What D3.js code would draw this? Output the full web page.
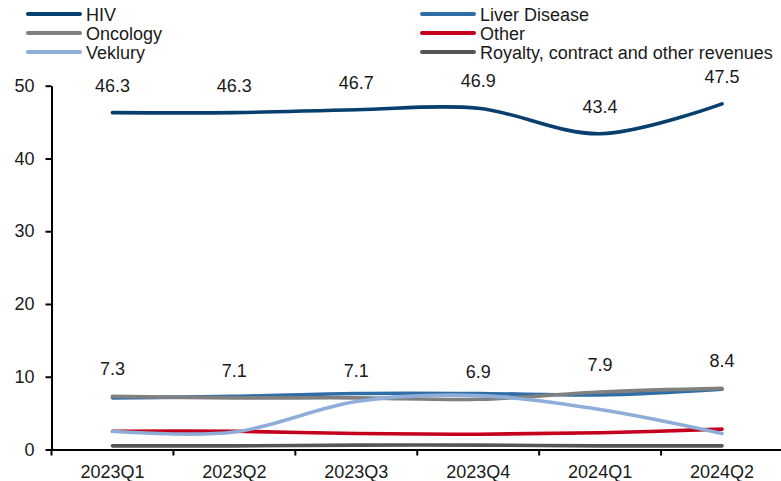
<!DOCTYPE html>
<html>
<head>
<meta charset="utf-8">
<script src="https://cdn.jsdelivr.net/npm/d3@7"></script>
<style>
  html, body { margin: 0; padding: 0; background: #fff; }
  svg { display: block; font-family: "Liberation Sans", Arial, sans-serif; }
</style>
</head>
<body>
<svg id="chart" width="781" height="481"></svg>
<script>
// Quarterly revenue mix by product line
const quarters = ["2023Q1", "2023Q2", "2023Q3", "2023Q4", "2024Q1", "2024Q2"];
const hiv      = [46.3, 46.3, 46.7, 46.9, 43.4, 47.5];
const liver    = [7.1, 7.3, 7.7, 7.7, 7.5, 8.3];
const oncology = [7.3, 7.1, 7.1, 6.9, 7.9, 8.4];
const other    = [2.5, 2.5, 2.2, 2.1, 2.3, 2.8];
const veklury  = [2.5, 2.4, 6.6, 7.4, 5.5, 2.2];
const royalty  = [0.5, 0.5, 0.6, 0.6, 0.5, 0.5];
const yTicks   = [0, 10, 20, 30, 40, 50];

const series = [
  { name: "HIV", values: hiv, color: "#073F6F", labels: true },
  { name: "Liver Disease", values: liver, color: "#2F6DA6" },
  { name: "Oncology", values: oncology, color: "#808080", labels: true },
  { name: "Other", values: other, color: "#C4001C" },
  { name: "Veklury", values: veklury, color: "#8EADD8" },
  { name: "Royalty, contract and other revenues", values: royalty, color: "#555555" }
];

const svg = d3.select("#chart");
const textColor = "#1a1a1a";

const x = d3.scaleBand().domain(quarters).range([51.5, 783]).padding(0);
const y = d3.scaleLinear().domain([0, 50]).range([449.5, 85.7]);
const cx = q => x(q) + x.bandwidth() / 2;

// Y axis
const yAxis = svg.append("g")
  .attr("transform", `translate(${x.range()[0]},0)`)
  .call(d3.axisLeft(y).tickValues(yTicks).tickSizeInner(6).tickSizeOuter(0).tickPadding(11));
yAxis.select(".domain").attr("stroke", "#000").attr("stroke-width", 2);
yAxis.selectAll(".tick line").attr("stroke", "#000").attr("stroke-width", 2);
yAxis.selectAll(".tick text").attr("fill", textColor)
  .style("font-size", "18px").style("font-family", "Liberation Sans, Arial, sans-serif");

// X axis: labels centred in each band, ticks at band edges
const xAxis = svg.append("g")
  .attr("transform", `translate(0,${y(0)})`)
  .call(d3.axisBottom(x).tickSize(0).tickPadding(16));
xAxis.select(".domain").attr("stroke", "#000").attr("stroke-width", 2);
xAxis.selectAll(".tick text").attr("fill", textColor)
  .style("font-size", "18px").style("font-family", "Liberation Sans, Arial, sans-serif");
const edges = quarters.map(q => x(q)).concat([x.range()[1]]);
xAxis.selectAll("line.edge").data(edges).enter().append("line")
  .attr("class", "edge")
  .attr("x1", d => d).attr("x2", d => d)
  .attr("y1", 0).attr("y2", 6)
  .attr("stroke", "#000").attr("stroke-width", 2);

// Smoothed series lines
const line = d3.line()
  .x((d, i) => cx(quarters[i]))
  .y(d => y(d))
  .curve(d3.curveCardinal.tension(0));

svg.append("g").selectAll("path").data(series).enter().append("path")
  .attr("d", s => line(s.values))
  .attr("fill", "none")
  .attr("stroke", s => s.color)
  .attr("stroke-width", 3.6)
  .attr("stroke-linecap", "round")
  .attr("stroke-linejoin", "round");

// Value labels above HIV and Oncology points
series.filter(s => s.labels).forEach(s => {
  svg.append("g").selectAll("text").data(s.values).enter().append("text")
    .attr("x", (d, i) => cx(quarters[i]))
    .attr("y", d => y(d) - 21)
    .attr("text-anchor", "middle")
    .attr("fill", textColor)
    .style("font-size", "18px")
    .text(d => d.toFixed(1));
});

// Legend in two columns
const legendCols = [28, 422];
const legendRows = [14, 33, 52];
const legend = svg.append("g").selectAll("g").data(series).enter().append("g")
  .attr("transform", (s, i) => `translate(${legendCols[i % 2]},${legendRows[Math.floor(i / 2)]})`);
legend.append("line")
  .attr("x1", 0).attr("x2", 52).attr("y1", 0).attr("y2", 0)
  .attr("stroke", s => s.color).attr("stroke-width", 4).attr("stroke-linecap", "round");
legend.append("text")
  .attr("x", 58).attr("y", 6.5)
  .attr("fill", textColor)
  .style("font-size", "18px")
  .text(s => s.name);
</script>
</body>
</html>
